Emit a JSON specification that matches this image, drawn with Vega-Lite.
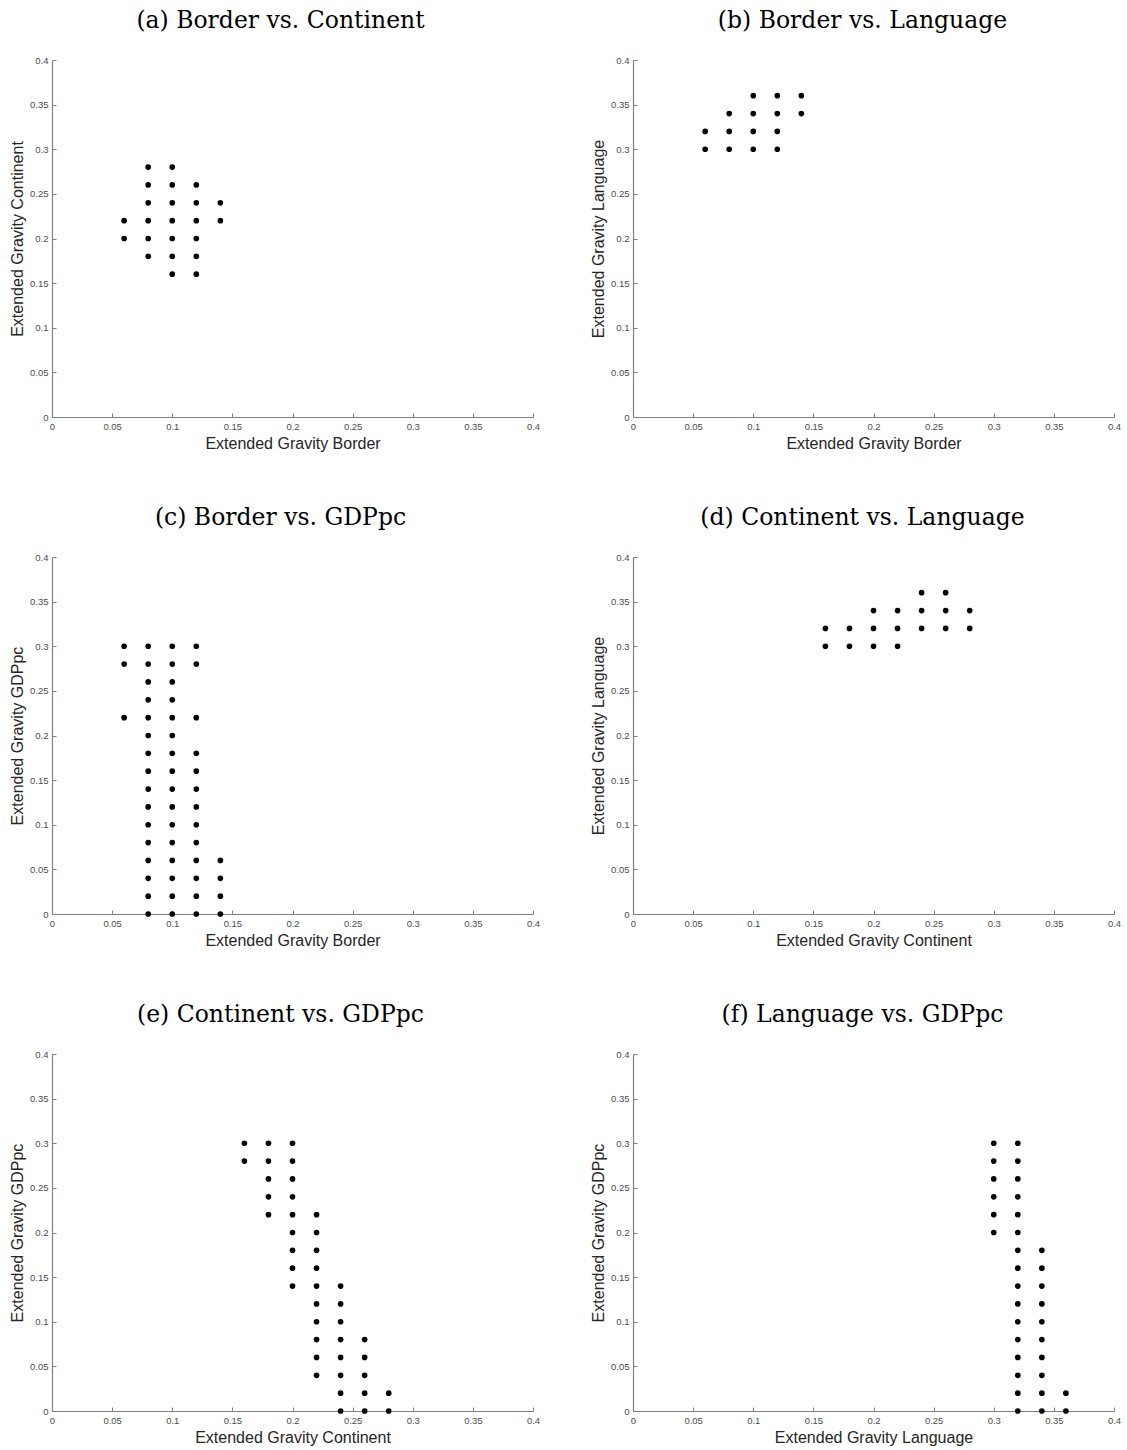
{
  "$schema": "https://vega.github.io/schema/vega-lite/v6.json",
  "background": "white",
  "padding": {"left": 9, "top": 8, "right": 5, "bottom": 5},
  "datasets": {
    "pts": [
      {"p": "a", "x": 0.06, "y": 0.22}, {"p": "a", "x": 0.06, "y": 0.20},
      {"p": "a", "x": 0.08, "y": 0.28}, {"p": "a", "x": 0.08, "y": 0.26}, {"p": "a", "x": 0.08, "y": 0.24}, {"p": "a", "x": 0.08, "y": 0.22}, {"p": "a", "x": 0.08, "y": 0.20}, {"p": "a", "x": 0.08, "y": 0.18},
      {"p": "a", "x": 0.10, "y": 0.28}, {"p": "a", "x": 0.10, "y": 0.26}, {"p": "a", "x": 0.10, "y": 0.24}, {"p": "a", "x": 0.10, "y": 0.22}, {"p": "a", "x": 0.10, "y": 0.20}, {"p": "a", "x": 0.10, "y": 0.18}, {"p": "a", "x": 0.10, "y": 0.16},
      {"p": "a", "x": 0.12, "y": 0.26}, {"p": "a", "x": 0.12, "y": 0.24}, {"p": "a", "x": 0.12, "y": 0.22}, {"p": "a", "x": 0.12, "y": 0.20}, {"p": "a", "x": 0.12, "y": 0.18}, {"p": "a", "x": 0.12, "y": 0.16},
      {"p": "a", "x": 0.14, "y": 0.24}, {"p": "a", "x": 0.14, "y": 0.22},

      {"p": "b", "x": 0.06, "y": 0.32}, {"p": "b", "x": 0.06, "y": 0.30},
      {"p": "b", "x": 0.08, "y": 0.34}, {"p": "b", "x": 0.08, "y": 0.32}, {"p": "b", "x": 0.08, "y": 0.30},
      {"p": "b", "x": 0.10, "y": 0.36}, {"p": "b", "x": 0.10, "y": 0.34}, {"p": "b", "x": 0.10, "y": 0.32}, {"p": "b", "x": 0.10, "y": 0.30},
      {"p": "b", "x": 0.12, "y": 0.36}, {"p": "b", "x": 0.12, "y": 0.34}, {"p": "b", "x": 0.12, "y": 0.32}, {"p": "b", "x": 0.12, "y": 0.30},
      {"p": "b", "x": 0.14, "y": 0.36}, {"p": "b", "x": 0.14, "y": 0.34},

      {"p": "c", "x": 0.06, "y": 0.30}, {"p": "c", "x": 0.06, "y": 0.28}, {"p": "c", "x": 0.06, "y": 0.22},
      {"p": "c", "x": 0.08, "y": 0.30}, {"p": "c", "x": 0.08, "y": 0.28}, {"p": "c", "x": 0.08, "y": 0.26}, {"p": "c", "x": 0.08, "y": 0.24}, {"p": "c", "x": 0.08, "y": 0.22}, {"p": "c", "x": 0.08, "y": 0.20}, {"p": "c", "x": 0.08, "y": 0.18}, {"p": "c", "x": 0.08, "y": 0.16}, {"p": "c", "x": 0.08, "y": 0.14}, {"p": "c", "x": 0.08, "y": 0.12}, {"p": "c", "x": 0.08, "y": 0.10}, {"p": "c", "x": 0.08, "y": 0.08}, {"p": "c", "x": 0.08, "y": 0.06}, {"p": "c", "x": 0.08, "y": 0.04}, {"p": "c", "x": 0.08, "y": 0.02}, {"p": "c", "x": 0.08, "y": 0.0},
      {"p": "c", "x": 0.10, "y": 0.30}, {"p": "c", "x": 0.10, "y": 0.28}, {"p": "c", "x": 0.10, "y": 0.26}, {"p": "c", "x": 0.10, "y": 0.24}, {"p": "c", "x": 0.10, "y": 0.22}, {"p": "c", "x": 0.10, "y": 0.20}, {"p": "c", "x": 0.10, "y": 0.18}, {"p": "c", "x": 0.10, "y": 0.16}, {"p": "c", "x": 0.10, "y": 0.14}, {"p": "c", "x": 0.10, "y": 0.12}, {"p": "c", "x": 0.10, "y": 0.10}, {"p": "c", "x": 0.10, "y": 0.08}, {"p": "c", "x": 0.10, "y": 0.06}, {"p": "c", "x": 0.10, "y": 0.04}, {"p": "c", "x": 0.10, "y": 0.02}, {"p": "c", "x": 0.10, "y": 0.0},
      {"p": "c", "x": 0.12, "y": 0.30}, {"p": "c", "x": 0.12, "y": 0.28}, {"p": "c", "x": 0.12, "y": 0.22}, {"p": "c", "x": 0.12, "y": 0.18}, {"p": "c", "x": 0.12, "y": 0.16}, {"p": "c", "x": 0.12, "y": 0.14}, {"p": "c", "x": 0.12, "y": 0.12}, {"p": "c", "x": 0.12, "y": 0.10}, {"p": "c", "x": 0.12, "y": 0.08}, {"p": "c", "x": 0.12, "y": 0.06}, {"p": "c", "x": 0.12, "y": 0.04}, {"p": "c", "x": 0.12, "y": 0.02}, {"p": "c", "x": 0.12, "y": 0.0},
      {"p": "c", "x": 0.14, "y": 0.06}, {"p": "c", "x": 0.14, "y": 0.04}, {"p": "c", "x": 0.14, "y": 0.02}, {"p": "c", "x": 0.14, "y": 0.0},

      {"p": "d", "x": 0.16, "y": 0.32}, {"p": "d", "x": 0.16, "y": 0.30},
      {"p": "d", "x": 0.18, "y": 0.32}, {"p": "d", "x": 0.18, "y": 0.30},
      {"p": "d", "x": 0.20, "y": 0.34}, {"p": "d", "x": 0.20, "y": 0.32}, {"p": "d", "x": 0.20, "y": 0.30},
      {"p": "d", "x": 0.22, "y": 0.34}, {"p": "d", "x": 0.22, "y": 0.32}, {"p": "d", "x": 0.22, "y": 0.30},
      {"p": "d", "x": 0.24, "y": 0.36}, {"p": "d", "x": 0.24, "y": 0.34}, {"p": "d", "x": 0.24, "y": 0.32},
      {"p": "d", "x": 0.26, "y": 0.36}, {"p": "d", "x": 0.26, "y": 0.34}, {"p": "d", "x": 0.26, "y": 0.32},
      {"p": "d", "x": 0.28, "y": 0.34}, {"p": "d", "x": 0.28, "y": 0.32},

      {"p": "e", "x": 0.16, "y": 0.30}, {"p": "e", "x": 0.16, "y": 0.28},
      {"p": "e", "x": 0.18, "y": 0.30}, {"p": "e", "x": 0.18, "y": 0.28}, {"p": "e", "x": 0.18, "y": 0.26}, {"p": "e", "x": 0.18, "y": 0.24}, {"p": "e", "x": 0.18, "y": 0.22},
      {"p": "e", "x": 0.20, "y": 0.30}, {"p": "e", "x": 0.20, "y": 0.28}, {"p": "e", "x": 0.20, "y": 0.26}, {"p": "e", "x": 0.20, "y": 0.24}, {"p": "e", "x": 0.20, "y": 0.22}, {"p": "e", "x": 0.20, "y": 0.20}, {"p": "e", "x": 0.20, "y": 0.18}, {"p": "e", "x": 0.20, "y": 0.16}, {"p": "e", "x": 0.20, "y": 0.14},
      {"p": "e", "x": 0.22, "y": 0.22}, {"p": "e", "x": 0.22, "y": 0.20}, {"p": "e", "x": 0.22, "y": 0.18}, {"p": "e", "x": 0.22, "y": 0.16}, {"p": "e", "x": 0.22, "y": 0.14}, {"p": "e", "x": 0.22, "y": 0.12}, {"p": "e", "x": 0.22, "y": 0.10}, {"p": "e", "x": 0.22, "y": 0.08}, {"p": "e", "x": 0.22, "y": 0.06}, {"p": "e", "x": 0.22, "y": 0.04},
      {"p": "e", "x": 0.24, "y": 0.14}, {"p": "e", "x": 0.24, "y": 0.12}, {"p": "e", "x": 0.24, "y": 0.10}, {"p": "e", "x": 0.24, "y": 0.08}, {"p": "e", "x": 0.24, "y": 0.06}, {"p": "e", "x": 0.24, "y": 0.04}, {"p": "e", "x": 0.24, "y": 0.02}, {"p": "e", "x": 0.24, "y": 0.0},
      {"p": "e", "x": 0.26, "y": 0.08}, {"p": "e", "x": 0.26, "y": 0.06}, {"p": "e", "x": 0.26, "y": 0.04}, {"p": "e", "x": 0.26, "y": 0.02}, {"p": "e", "x": 0.26, "y": 0.0},
      {"p": "e", "x": 0.28, "y": 0.02}, {"p": "e", "x": 0.28, "y": 0.0},

      {"p": "f", "x": 0.30, "y": 0.30}, {"p": "f", "x": 0.30, "y": 0.28}, {"p": "f", "x": 0.30, "y": 0.26}, {"p": "f", "x": 0.30, "y": 0.24}, {"p": "f", "x": 0.30, "y": 0.22}, {"p": "f", "x": 0.30, "y": 0.20},
      {"p": "f", "x": 0.32, "y": 0.30}, {"p": "f", "x": 0.32, "y": 0.28}, {"p": "f", "x": 0.32, "y": 0.26}, {"p": "f", "x": 0.32, "y": 0.24}, {"p": "f", "x": 0.32, "y": 0.22}, {"p": "f", "x": 0.32, "y": 0.20}, {"p": "f", "x": 0.32, "y": 0.18}, {"p": "f", "x": 0.32, "y": 0.16}, {"p": "f", "x": 0.32, "y": 0.14}, {"p": "f", "x": 0.32, "y": 0.12}, {"p": "f", "x": 0.32, "y": 0.10}, {"p": "f", "x": 0.32, "y": 0.08}, {"p": "f", "x": 0.32, "y": 0.06}, {"p": "f", "x": 0.32, "y": 0.04}, {"p": "f", "x": 0.32, "y": 0.02}, {"p": "f", "x": 0.32, "y": 0.0},
      {"p": "f", "x": 0.34, "y": 0.18}, {"p": "f", "x": 0.34, "y": 0.16}, {"p": "f", "x": 0.34, "y": 0.14}, {"p": "f", "x": 0.34, "y": 0.12}, {"p": "f", "x": 0.34, "y": 0.10}, {"p": "f", "x": 0.34, "y": 0.08}, {"p": "f", "x": 0.34, "y": 0.06}, {"p": "f", "x": 0.34, "y": 0.04}, {"p": "f", "x": 0.34, "y": 0.02}, {"p": "f", "x": 0.34, "y": 0.0},
      {"p": "f", "x": 0.36, "y": 0.02}, {"p": "f", "x": 0.36, "y": 0.0}
    ]
  },
  "data": {"name": "pts"},
  "columns": 2,
  "spacing": {"row": 140, "column": 100},
  "bounds": "flush",
  "concat": [
    {
      "title": {"text": "(a) Border vs. Continent", "dx": -12},
      "width": 481, "height": 357,
      "transform": [{"filter": "datum.p == 'a'"}],
      "mark": {"type": "point", "filled": true, "shape": "circle", "size": 32, "color": "#000000", "opacity": 1, "clip": false},
      "encoding": {
        "x": {"field": "x", "type": "quantitative", "scale": {"domain": [0, 0.4], "nice": false, "zero": false}, "axis": {"title": "Extended Gravity Border", "values": [0, 0.05, 0.1, 0.15, 0.2, 0.25, 0.3, 0.35, 0.4], "format": "~g"}},
        "y": {"field": "y", "type": "quantitative", "scale": {"domain": [0, 0.4], "nice": false, "zero": false}, "axis": {"title": "Extended Gravity Continent", "values": [0, 0.05, 0.1, 0.15, 0.2, 0.25, 0.3, 0.35, 0.4], "format": "~g"}}
      }
    },
    {
      "title": {"text": "(b) Border vs. Language", "dx": -11},
      "width": 481, "height": 357,
      "transform": [{"filter": "datum.p == 'b'"}],
      "mark": {"type": "point", "filled": true, "shape": "circle", "size": 32, "color": "#000000", "opacity": 1, "clip": false},
      "encoding": {
        "x": {"field": "x", "type": "quantitative", "scale": {"domain": [0, 0.4], "nice": false, "zero": false}, "axis": {"title": "Extended Gravity Border", "values": [0, 0.05, 0.1, 0.15, 0.2, 0.25, 0.3, 0.35, 0.4], "format": "~g"}},
        "y": {"field": "y", "type": "quantitative", "scale": {"domain": [0, 0.4], "nice": false, "zero": false}, "axis": {"title": "Extended Gravity Language", "values": [0, 0.05, 0.1, 0.15, 0.2, 0.25, 0.3, 0.35, 0.4], "format": "~g"}}
      }
    },
    {
      "title": {"text": "(c) Border vs. GDPpc", "dx": -12},
      "width": 481, "height": 357,
      "transform": [{"filter": "datum.p == 'c'"}],
      "mark": {"type": "point", "filled": true, "shape": "circle", "size": 32, "color": "#000000", "opacity": 1, "clip": false},
      "encoding": {
        "x": {"field": "x", "type": "quantitative", "scale": {"domain": [0, 0.4], "nice": false, "zero": false}, "axis": {"title": "Extended Gravity Border", "values": [0, 0.05, 0.1, 0.15, 0.2, 0.25, 0.3, 0.35, 0.4], "format": "~g"}},
        "y": {"field": "y", "type": "quantitative", "scale": {"domain": [0, 0.4], "nice": false, "zero": false}, "axis": {"title": "Extended Gravity GDPpc", "values": [0, 0.05, 0.1, 0.15, 0.2, 0.25, 0.3, 0.35, 0.4], "format": "~g"}}
      }
    },
    {
      "title": {"text": "(d) Continent vs. Language", "dx": -11},
      "width": 481, "height": 357,
      "transform": [{"filter": "datum.p == 'd'"}],
      "mark": {"type": "point", "filled": true, "shape": "circle", "size": 32, "color": "#000000", "opacity": 1, "clip": false},
      "encoding": {
        "x": {"field": "x", "type": "quantitative", "scale": {"domain": [0, 0.4], "nice": false, "zero": false}, "axis": {"title": "Extended Gravity Continent", "values": [0, 0.05, 0.1, 0.15, 0.2, 0.25, 0.3, 0.35, 0.4], "format": "~g"}},
        "y": {"field": "y", "type": "quantitative", "scale": {"domain": [0, 0.4], "nice": false, "zero": false}, "axis": {"title": "Extended Gravity Language", "values": [0, 0.05, 0.1, 0.15, 0.2, 0.25, 0.3, 0.35, 0.4], "format": "~g"}}
      }
    },
    {
      "title": {"text": "(e) Continent vs. GDPpc", "dx": -12},
      "width": 481, "height": 357,
      "transform": [{"filter": "datum.p == 'e'"}],
      "mark": {"type": "point", "filled": true, "shape": "circle", "size": 32, "color": "#000000", "opacity": 1, "clip": false},
      "encoding": {
        "x": {"field": "x", "type": "quantitative", "scale": {"domain": [0, 0.4], "nice": false, "zero": false}, "axis": {"title": "Extended Gravity Continent", "values": [0, 0.05, 0.1, 0.15, 0.2, 0.25, 0.3, 0.35, 0.4], "format": "~g"}},
        "y": {"field": "y", "type": "quantitative", "scale": {"domain": [0, 0.4], "nice": false, "zero": false}, "axis": {"title": "Extended Gravity GDPpc", "values": [0, 0.05, 0.1, 0.15, 0.2, 0.25, 0.3, 0.35, 0.4], "format": "~g"}}
      }
    },
    {
      "title": {"text": "(f) Language vs. GDPpc", "dx": -11},
      "width": 481, "height": 357,
      "transform": [{"filter": "datum.p == 'f'"}],
      "mark": {"type": "point", "filled": true, "shape": "circle", "size": 32, "color": "#000000", "opacity": 1, "clip": false},
      "encoding": {
        "x": {"field": "x", "type": "quantitative", "scale": {"domain": [0, 0.4], "nice": false, "zero": false}, "axis": {"title": "Extended Gravity Language", "values": [0, 0.05, 0.1, 0.15, 0.2, 0.25, 0.3, 0.35, 0.4], "format": "~g"}},
        "y": {"field": "y", "type": "quantitative", "scale": {"domain": [0, 0.4], "nice": false, "zero": false}, "axis": {"title": "Extended Gravity GDPpc", "values": [0, 0.05, 0.1, 0.15, 0.2, 0.25, 0.3, 0.35, 0.4], "format": "~g"}}
      }
    }
  ],
  "config": {
    "view": {"stroke": null},
    "title": {"font": "DejaVu Serif", "fontSize": 23.5, "fontWeight": "normal", "color": "#000000", "anchor": "middle", "frame": "group", "baseline": "alphabetic", "offset": 23},
    "axis": {
      "grid": false,
      "domainColor": "#808080",
      "domainWidth": 1.2,
      "tickColor": "#808080",
      "tickWidth": 1,
      "tickSize": -4,
      "labelFont": "Liberation Sans",
      "labelFontSize": 9.5,
      "labelColor": "#4d4d4d",
      "labelPadding": 8,
      "labelOverlap": false,
      "labelFlush": false,
      "titleFont": "Liberation Sans",
      "titleFontSize": 16,
      "titleFontWeight": "normal",
      "titleColor": "#262626"
    },
    "axisX": {"titlePadding": 5},
    "axisY": {"titlePadding": 4}
  }
}
